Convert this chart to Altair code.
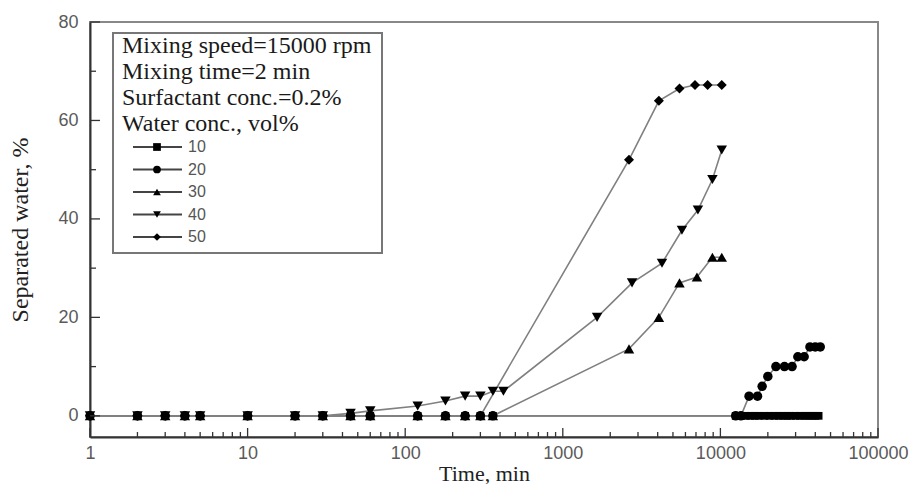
import altair as alt
import pandas as pd

# ---- data ----
s10_t = [1, 2, 3, 4, 5, 10, 20, 30, 45, 60, 120, 180, 240, 300, 360,
         12500, 13500, 14500, 15500, 16500, 17500, 19000, 20500, 22000, 23500,
         25000, 26500, 28000, 30000, 32000, 34000, 36000, 38000, 40000, 42000]
s10_v = [0, 0, 0, 0, 0, 0, 0, 0, 0, 0, 0, 0, 0, 0, 0,
         0, 0, 0, 0, 0, 0, 0, 0, 0, 0,
         0, 0, 0, 0, 0, 0, 0, 0, 0, 0]

s20_t = [1, 2, 3, 4, 5, 10, 20, 30, 45, 60, 120, 180, 240, 300, 360,
         12500, 13500, 15200, 17200, 18400, 20000, 22500, 25500, 28500,
         31000, 34000, 37000, 40000, 43000]
s20_v = [0, 0, 0, 0, 0, 0, 0, 0, 0, 0, 0, 0, 0, 0, 0,
         0, 0, 4, 4, 6, 8, 10, 10, 10,
         12, 12, 14, 14, 14]

s30_t = [1, 2, 3, 4, 5, 10, 20, 30, 45, 60, 120, 180, 240, 300, 360,
         2630, 4070, 5500, 7100, 8900, 10200]
s30_v = [0, 0, 0, 0, 0, 0, 0, 0, 0, 0, 0, 0, 0, 0, 0,
         13.6, 20, 27, 28.2, 32.2, 32.2]

s40_t = [1, 2, 3, 4, 5, 10, 20, 30, 45, 60, 120, 180, 240, 300, 360, 420,
         1650, 2750, 4260, 5700, 7200, 8900, 10200]
s40_v = [0, 0, 0, 0, 0, 0, 0, 0, 0.5, 1, 2, 3, 4, 4, 5, 5,
         20, 27, 31, 37.7, 41.8, 48, 54]

s50_t = [1, 2, 3, 4, 5, 10, 20, 30, 45, 60, 120, 180, 240, 300,
         2630, 4070, 5500, 6900, 8300, 10200]
s50_v = [0, 0, 0, 0, 0, 0, 0, 0, 0, 0, 0, 0, 0, 0,
         52, 64, 66.5, 67.2, 67.2, 67.2]

series_names = ["10", "20", "30", "40", "50"]
series_shapes = ["square", "circle", "triangle-up", "triangle-down", "diamond"]
series_sizes = [60, 90, 110, 110, 100]

legend_title = ["Mixing speed=15000 rpm", "Mixing time=2 min",
                "Surfactant conc.=0.2%", "Water conc., vol%"]

x_ticks = [1, 10, 100, 1000, 10000, 100000]
y_ticks = [0, 20, 40, 60, 80]
y_minor = [10, 30, 50, 70]

# ---- build table ----
rows = []
for name, ts, vs in zip(series_names, [s10_t, s20_t, s30_t, s40_t, s50_t],
                        [s10_v, s20_v, s30_v, s40_v, s50_v]):
    for t, v in zip(ts, vs):
        rows.append({"series": name, "time": t, "value": v})
df = pd.DataFrame(rows)

W, H = 788, 415
XDOM = [1, 100000]
YDOM = [-4.3, 80]

xscale = alt.Scale(type="log", domain=XDOM, nice=False)
yscale = alt.Scale(domain=YDOM, nice=False, zero=False)

xaxis = alt.Axis(values=x_ticks, format="d", ticks=False, tickSize=0, grid=False,
                 domainColor="#333", domainWidth=2,
                 labelFont="Liberation Sans", labelFontSize=18, labelColor="#5a5a5a",
                 labelPadding=7, labelFlush=False, labelOverlap=False,
                 title="Time, min", titleFont="Liberation Serif", titleFontSize=22,
                 titleFontWeight="normal", titleColor="#222", titlePadding=1)
yaxis = alt.Axis(values=y_ticks, ticks=False, tickSize=0, grid=False,
                 domainColor="#333", domainWidth=2,
                 labelFont="Liberation Sans", labelFontSize=18, labelColor="#5a5a5a",
                 labelPadding=12, labelFlush=False,
                 title="Separated water, %", titleFont="Liberation Serif",
                 titleFontSize=24, titleFontWeight="normal", titleColor="#222",
                 titlePadding=25)

base = alt.Chart(df)
lines = base.mark_line(color="#808080", strokeWidth=1.6).encode(
    x=alt.X("time:Q", scale=xscale, axis=xaxis),
    y=alt.Y("value:Q", scale=yscale, axis=yaxis),
    detail="series:N",
)
layers = [lines]
for name, shp, sz in zip(series_names, series_shapes, series_sizes):
    layers.append(
        alt.Chart(df[df.series == name]).mark_point(
            filled=True, color="black", opacity=1, shape=shp, size=sz
        ).encode(x=alt.X("time:Q", scale=xscale), y=alt.Y("value:Q", scale=yscale))
    )

# inward tick marks
xmaj = pd.DataFrame({"t": x_ticks})
xmin = pd.DataFrame({"t": [m * d for d in [1, 10, 100, 1000, 10000] for m in range(2, 10)]})
layers.append(alt.Chart(xmaj).mark_rule(color="#333", strokeWidth=1.3).encode(
    x=alt.X("t:Q", scale=xscale), y=alt.value(H), y2=alt.value(H - 9)))
layers.append(alt.Chart(xmin).mark_rule(color="#333", strokeWidth=1.3).encode(
    x=alt.X("t:Q", scale=xscale), y=alt.value(H), y2=alt.value(H - 5)))
ymaj = pd.DataFrame({"v": y_ticks})
ymin = pd.DataFrame({"v": y_minor})
layers.append(alt.Chart(ymaj).mark_rule(color="#333", strokeWidth=1.3).encode(
    y=alt.Y("v:Q", scale=yscale), x=alt.value(0), x2=alt.value(10)))
layers.append(alt.Chart(ymin).mark_rule(color="#333", strokeWidth=1.3).encode(
    y=alt.Y("v:Q", scale=yscale), x=alt.value(0), x2=alt.value(6)))

# legend box
one = pd.DataFrame({"a": [0]})
layers.append(alt.Chart(one).mark_rect(fill="white", stroke="#777", strokeWidth=2).encode(
    x=alt.value(23), x2=alt.value(292), y=alt.value(11), y2=alt.value(231)))
for i, line in enumerate(legend_title):
    layers.append(alt.Chart(one).mark_text(
        text=line, align="left", baseline="middle", font="Liberation Serif",
        fontSize=24, color="#1a1a1a").encode(x=alt.value(32), y=alt.value(24 + i * 26)))
for i, (name, shp) in enumerate(zip(series_names, series_shapes)):
    ry = 125 + i * 22.5
    layers.append(alt.Chart(one).mark_rule(color="#444", strokeWidth=2).encode(
        x=alt.value(43), x2=alt.value(92), y=alt.value(ry)))
    layers.append(alt.Chart(one).mark_point(filled=True, color="black", opacity=1,
                                            shape=shp, size=60).encode(
        x=alt.value(67), y=alt.value(ry)))
    layers.append(alt.Chart(one).mark_text(
        text=name, align="left", baseline="middle", font="Liberation Sans",
        fontSize=16, color="#555").encode(x=alt.value(98), y=alt.value(ry)))

chart = alt.layer(*layers).properties(
    width=W, height=H,
    autosize=alt.AutoSizeParams(type="none"),
    padding={"left": 82, "top": 14, "right": 31, "bottom": 47},
).configure_view(stroke="#888", strokeWidth=2)

chart.save("out.html", embed_options={"renderer": "svg", "actions": False})
